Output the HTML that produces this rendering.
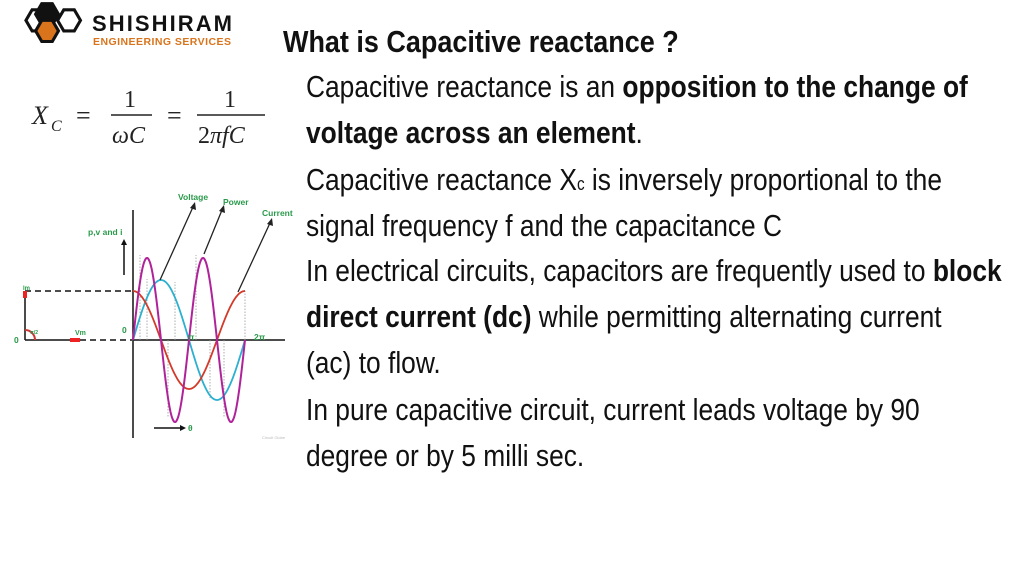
<!DOCTYPE html>
<html><head><meta charset="utf-8"><style>
body{margin:0;width:1024px;height:576px;background:#fff;position:relative;overflow:hidden;font-family:"Liberation Sans",sans-serif;}
.t{position:absolute;left:306px;font-size:31px;color:#111;white-space:nowrap;line-height:1;transform:scaleX(0.85);transform-origin:0 0;}
b{font-weight:bold;}
</style></head><body>
<svg width="1024" height="576" style="position:absolute;left:0;top:0" id="s">
 <!-- logo -->
 <g stroke="#111" stroke-width="3.5" fill="#fff" transform="translate(-4,1) scale(0.88)">
  <polygon points="34,22 41,10 53,10 60,22 53,34 41,34"/>
  <polygon points="70,22 77,10 89,10 96,22 89,34 77,34" />
  <polygon points="45,15 52,3 64,3 71,15 64,27 52,27" fill="#111"/>
  <polygon points="45,34 52,22 64,22 71,34 64,46 52,46" fill="#d9741c" stroke="#111"/>
 </g>
 <text x="92" y="31" font-family="Liberation Sans" font-weight="bold" font-size="22" fill="#111" textLength="140">SHISHIRAM</text>
 <text x="93" y="45" font-family="Liberation Sans" font-weight="bold" font-size="10.5" fill="#d9741c" textLength="138">ENGINEERING SERVICES</text>
 <!-- formula -->
 <g font-family="Liberation Serif" fill="#222">
  <text x="32" y="124" font-size="26" font-style="italic">X</text>
  <text x="51" y="131" font-size="16" font-style="italic">C</text>
  <text x="76" y="124" font-size="26">=</text>
  <text x="124" y="107" font-size="24">1</text>
  <line x1="111" y1="115" x2="152" y2="115" stroke="#222" stroke-width="1.5"/>
  <text x="112" y="143" font-size="24" font-style="italic">ωC</text>
  <text x="167" y="124" font-size="26">=</text>
  <text x="224" y="107" font-size="24">1</text>
  <line x1="197" y1="115" x2="265" y2="115" stroke="#222" stroke-width="1.5"/>
  <text x="198" y="143" font-size="24"><tspan>2</tspan><tspan font-style="italic">πfC</tspan></text>
 </g>
 <!-- graph -->
 <g stroke="#111" stroke-width="1.5" fill="none">
  <line x1="133" y1="210" x2="133" y2="438"/>
  <line x1="25" y1="340" x2="285" y2="340"/>
  <line x1="25" y1="291" x2="25" y2="340"/>
  <line x1="25" y1="291" x2="133" y2="291" stroke-dasharray="6,4"/>
  <line x1="80" y1="340" x2="133" y2="340" stroke="#fff" stroke-width="2"/>
  <line x1="80" y1="340" x2="133" y2="340" stroke-dasharray="6,4"/>
  <line x1="124" y1="275" x2="124" y2="243"/>
  <line x1="154" y1="428" x2="180" y2="428"/>
 </g>
 <polygon points="180,425 186,428 180,431" fill="#111"/>
 <polygon points="121,245 124,239 127,245" fill="#111"/>
 <path d="M25,330 A10,10 0 0 1 35,340" stroke="#c33" stroke-width="2" fill="none"/>
 <rect x="23" y="291" width="4" height="7" fill="#e22"/>
 <rect x="70" y="338" width="10" height="4" fill="#e22"/>
 <g id="dots" stroke="#999" stroke-width="0.8" stroke-dasharray="1.5,1.5"></g>
 <path id="cv" stroke="#2bb0d0" stroke-width="1.8" fill="none"/>
 <path id="ci" stroke="#d23a2a" stroke-width="1.8" fill="none"/>
 <path id="cp" stroke="#b0229a" stroke-width="2" fill="none"/>
 <g stroke="#222" stroke-width="1.3">
  <line x1="160" y1="280" x2="193" y2="207"/>
  <line x1="204" y1="254" x2="222" y2="210"/>
  <line x1="238" y1="292" x2="270" y2="223"/>
 </g>
 <polygon points="190,208 195,202 196,210" fill="#222"/>
 <polygon points="219,211 224,205 225,213" fill="#222"/>
 <polygon points="267,224 272,218 273,226" fill="#222"/>
 <g font-family="Liberation Sans" font-weight="bold" fill="#2a9a4a" font-size="8.5">
  <text x="178" y="200">Voltage</text>
  <text x="223" y="205">Power</text>
  <text x="262" y="216">Current</text>
  <text x="88" y="235">p,v and i</text>
  <text x="14" y="343">0</text>
  <text x="122" y="333">0</text>
  <text x="188" y="340">π</text>
  <text x="254" y="340">2π</text>
  <text x="23" y="290" font-size="6">Im</text>
  <text x="75" y="335" font-size="7">Vm</text>
  <text x="30" y="334" font-size="5">π/2</text>
  <text x="188" y="431">θ</text>
 </g>
 <text x="262" y="439" font-family="Liberation Sans" font-size="4" fill="#bbb">Circuit Globe</text>
</svg>
<div class="t" style="left:283px;top:26px;font-weight:bold;font-size:31px;transform:scaleX(0.87)">What is Capacitive reactance ?</div>
<div class="t" style="top:71px">Capacitive reactance is an <b>opposition to the change of</b></div>
<div class="t" style="top:117px"><b>voltage across an element</b>.</div>
<div class="t" style="top:164px">Capacitive reactance X<span style="font-size:18px">c</span> is inversely proportional to the</div>
<div class="t" style="top:210px">signal frequency f and the capacitance C</div>
<div class="t" style="top:255px">In electrical circuits, capacitors are frequently used to <b>block</b></div>
<div class="t" style="top:301px"><b>direct current (dc)</b> while permitting alternating current</div>
<div class="t" style="top:347px">(ac) to flow.</div>
<div class="t" style="top:394px">In pure capacitive circuit, current leads voltage by 90</div>
<div class="t" style="top:440px">degree or by 5 milli sec.</div>
<script>
var x0=133,y0=340,P=112;
function mk(f){var d="";for(var i=0;i<=224;i++){var t=i/224*2*Math.PI;var x=x0+t/(2*Math.PI)*P;d+=(i?"L":"M")+x.toFixed(1)+","+(y0-f(t)).toFixed(1);}return d;}
document.getElementById("cv").setAttribute("d",mk(function(t){return 60*Math.sin(t)}));
document.getElementById("ci").setAttribute("d",mk(function(t){return 49*Math.cos(t)}));
document.getElementById("cp").setAttribute("d",mk(function(t){return 82*Math.sin(2*t)}));
var g=document.getElementById("dots"),s="";
[[1,-85],[2,-61],[5,78],[6,-58],[9,-85],[11,58],[13,78],[16,-49]].forEach(function(a){var x=x0+a[0]*P/16;s+='<line x1="'+x+'" y1="340" x2="'+x+'" y2="'+(340+a[1])+'"/>';});
g.innerHTML=s;
</script>
</body></html>
